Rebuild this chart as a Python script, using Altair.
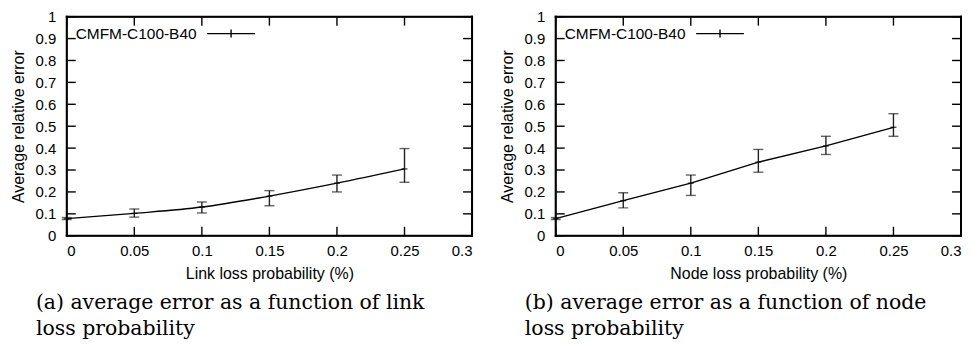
import altair as alt
import pandas as pd

# ---- data ----
x_vals = [0, 0.05, 0.1, 0.15, 0.2, 0.25]

link_mean = [0.078, 0.102, 0.131, 0.181, 0.240, 0.305]
link_lo = [0.074, 0.085, 0.104, 0.137, 0.200, 0.244]
link_hi = [0.083, 0.122, 0.154, 0.206, 0.277, 0.398]

node_mean = [0.078, 0.160, 0.240, 0.336, 0.410, 0.495]
node_lo = [0.074, 0.127, 0.184, 0.290, 0.371, 0.454]
node_hi = [0.083, 0.196, 0.277, 0.394, 0.454, 0.557]

x_ticks = [0, 0.05, 0.1, 0.15, 0.2, 0.25, 0.3]
y_ticks = [0, 0.1, 0.2, 0.3, 0.4, 0.5, 0.6, 0.7, 0.8, 0.9, 1.0]

series_name = "CMFM-C100-B40"
y_title = "Average relative error"
x_title_a = "Link loss probability (%)"
x_title_b = "Node loss probability (%)"
caption_a = ["(a) average error as a function of link", "\u00a0loss probability"]
caption_b = ["(b) average error as a function of node", "\u00a0loss probability"]

W, H = 407, 220
TICK = 9
SANS = "Liberation Sans"
B = 1.0  # half thickness of the border band


def panel(mean, lo, hi, xtitle, caption, interp):
    df = pd.DataFrame({"x": x_vals, "m": mean, "lo": lo, "hi": hi})
    xs = alt.Scale(domain=[0, 0.3], nice=False, zero=False)
    ys = alt.Scale(domain=[0, 1], nice=False)
    xaxis = alt.Axis(values=x_ticks, format=".2~f", ticks=False, domain=False,
                     grid=False, labelPadding=8, titlePadding=7,
                     labelFontSize=15, titleFontSize=16)
    yaxis = alt.Axis(values=y_ticks, format=".1~f", ticks=False, domain=False,
                     grid=False, labelPadding=11, titlePadding=9,
                     labelFontSize=15, titleFontSize=16)

    def X(field):
        return alt.X(f"{field}:Q", scale=xs, title=xtitle, axis=xaxis)

    def Y(field):
        return alt.Y(f"{field}:Q", scale=ys, title=y_title, axis=yaxis)

    base = alt.Chart(df)
    line = base.mark_line(color="black", strokeWidth=1.4, interpolate=interp).encode(x=X("x"), y=Y("m"))
    bars = base.mark_rule(color="#222", strokeWidth=1.4).encode(x=X("x"), y=Y("lo"), y2="hi:Q")
    cap_lo = base.mark_tick(orient="horizontal", size=10, thickness=1.4, color="#222").encode(
        x=X("x"), y=Y("lo"))
    cap_hi = base.mark_tick(orient="horizontal", size=10, thickness=1.4, color="#222").encode(
        x=X("x"), y=Y("hi"))
    center = base.mark_tick(orient="horizontal", size=6, thickness=1.4, color="black").encode(
        x=X("x"), y=Y("m"))

    txdf = pd.DataFrame({"x": x_ticks})
    tydf = pd.DataFrame({"m": y_ticks})
    tick_b = alt.Chart(txdf).mark_rule(color="black", strokeWidth=1.4).encode(
        x=X("x"), y=alt.value(H), y2=alt.value(H - TICK))
    tick_t = alt.Chart(txdf).mark_rule(color="black", strokeWidth=1.4).encode(
        x=X("x"), y=alt.value(0.5), y2=alt.value(TICK))
    tick_l = alt.Chart(tydf).mark_rule(color="black", strokeWidth=1.4).encode(
        y=Y("m"), x=alt.value(0.5), x2=alt.value(TICK))
    tick_r = alt.Chart(tydf).mark_rule(color="black", strokeWidth=1.4).encode(
        y=Y("m"), x=alt.value(W), x2=alt.value(W - TICK))

    ldf = pd.DataFrame({"label": [series_name]})
    # plot border as four thin filled bands (pixel positions of the frame)
    band = dict(color="black", opacity=1, strokeWidth=0)
    border = [
        alt.Chart(ldf).mark_rect(**band).encode(
            x=alt.value(-B), x2=alt.value(W + B), y=alt.value(-B), y2=alt.value(B)),
        alt.Chart(ldf).mark_rect(**band).encode(
            x=alt.value(-B), x2=alt.value(W + B), y=alt.value(H - B), y2=alt.value(H + B)),
        alt.Chart(ldf).mark_rect(**band).encode(
            x=alt.value(-B), x2=alt.value(B), y=alt.value(-B), y2=alt.value(H + B)),
        alt.Chart(ldf).mark_rect(**band).encode(
            x=alt.value(W - B), x2=alt.value(W + B), y=alt.value(-B), y2=alt.value(H + B)),
    ]
    leg_text = alt.Chart(ldf).mark_text(align="left", baseline="middle", fontSize=15.5,
                                        font=SANS, color="black").encode(
        text="label:N", x=alt.value(9), y=alt.value(17))
    leg_line = alt.Chart(ldf).mark_rule(color="black", strokeWidth=1.4).encode(
        x=alt.value(141), x2=alt.value(189), y=alt.value(17))
    leg_plus = alt.Chart(ldf).mark_rule(color="black", strokeWidth=1.4).encode(
        x=alt.value(165), y=alt.value(13), y2=alt.value(21))

    return alt.layer(
        line, bars, cap_lo, cap_hi, center,
        tick_b, tick_t, tick_l, tick_r,
        leg_text, leg_line, leg_plus, *border,
    ).properties(
        width=W, height=H,
        title=alt.TitleParams(
            text=caption, orient="bottom", anchor="start", frame="group",
            dx=-31, offset=12, font="DejaVu Serif", fontSize=20.5,
            fontWeight="normal", lineHeight=26, color="black",
        ),
    )


left = panel(link_mean, link_lo, link_hi, x_title_a, caption_a, "monotone")
right = panel(node_mean, node_lo, node_hi, x_title_b, caption_b, "linear")

chart = alt.hconcat(left, right, spacing=24).properties(
    padding={"left": 1, "top": 0, "right": 0, "bottom": 0},
    background="white",
).configure_view(
    stroke="black", strokeWidth=1.5,
).configure_axis(
    labelFont=SANS, titleFont=SANS, labelColor="black", titleColor="black",
    titleFontWeight="normal",
)

chart.save("out.html", embed_options={"renderer": "svg", "actions": False})
